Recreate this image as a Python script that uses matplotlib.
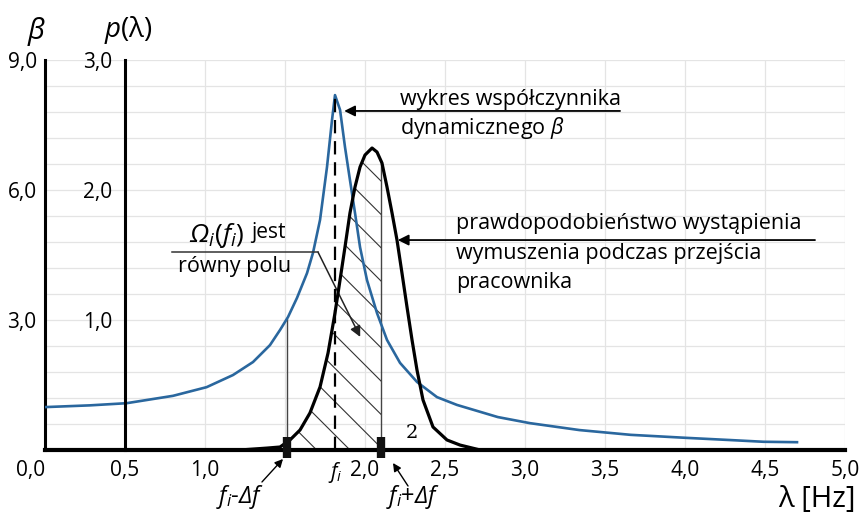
import numpy as np
import matplotlib
matplotlib.use("Agg")
import matplotlib.pyplot as plt
from matplotlib.ticker import MultipleLocator

plt.rcParams['font.family'] = ['Open Sans', 'DejaVu Sans']
plt.rcParams['mathtext.fontset'] = 'custom'
plt.rcParams['mathtext.rm'] = 'Open Sans:italic'
plt.rcParams['mathtext.it'] = 'Open Sans:italic'
plt.rcParams['hatch.linewidth'] = 0.8

# ---- data ----
beta_x = [0.0, 0.28, 0.51, 0.80, 1.01, 1.175, 1.30, 1.406, 1.469, 1.519, 1.575, 1.6375,
          1.675, 1.719, 1.7625, 1.794, 1.8125, 1.844, 1.875, 1.906, 1.9375, 1.969,
          2.0125, 2.075, 2.1375, 2.219, 2.325, 2.45, 2.575, 2.83, 3.03, 3.34, 3.66,
          4.01, 4.28, 4.49, 4.70]
beta_y = [0.99, 1.03, 1.08, 1.25, 1.45, 1.73, 2.03, 2.42, 2.77, 3.07, 3.51, 4.08,
          4.55, 5.31, 6.53, 7.62, 8.19, 7.85, 6.99, 6.23, 5.47, 4.68,
          3.92, 3.16, 2.54, 2.01, 1.57, 1.22, 1.04, 0.76, 0.62, 0.46, 0.35,
          0.28, 0.23, 0.19, 0.18]

p_x = [1.22, 1.39, 1.469, 1.531, 1.594, 1.656, 1.719, 1.769, 1.8125, 1.844, 1.875, 1.906,
       1.9375, 1.969, 2.0, 2.044, 2.075, 2.106, 2.1375, 2.169, 2.2, 2.231, 2.2625,
       2.294, 2.325, 2.3625, 2.425, 2.5125, 2.594, 2.72]
p_y = [0.0, 0.015, 0.023, 0.077, 0.154, 0.285, 0.485, 0.746, 1.054, 1.308, 1.562, 1.823,
       2.023, 2.177, 2.269, 2.323, 2.292, 2.208, 2.023, 1.823, 1.615, 1.362, 1.10,
       0.846, 0.615, 0.385, 0.177, 0.077, 0.038, 0.0]

x_ticks = [0.0, 0.5, 1.0, 2.0, 2.5, 3.0, 3.5, 4.0, 4.5, 5.0]
x_labels = ['0,0', '0,5', '1,0', '2,0', '2,5', '3,0', '3,5', '4,0', '4,5', '5,0']
p_ticks = [1.0, 2.0, 3.0]
p_labels = ['1,0', '2,0', '3,0']
beta_labels = ['3,0', '6,0', '9,0']
fi = 1.8125
f_lo = 1.5125
f_hi = 2.10
p_axis_x = 0.5

BETA_PER_P = 3.0

# ---- figure ----
fig = plt.figure(figsize=(8.67, 5.16), dpi=100)
L, B, W, H = 45/867, 66/516, 800/867, 390/516
ax = fig.add_axes([L, B, W, H])
ax.set_xlim(0, 5)
ax.set_ylim(0, 3)

for s in ['top', 'right']:
    ax.spines[s].set_visible(False)
ax.spines['left'].set_linewidth(2.2)
ax.spines['bottom'].set_linewidth(3.0)
ax.spines['bottom'].set_zorder(6)

# grid
ax.xaxis.set_minor_locator(MultipleLocator(0.5))
ax.yaxis.set_minor_locator(MultipleLocator(0.2))
ax.xaxis.remove_overlapping_locs = False
ax.yaxis.remove_overlapping_locs = False
ax.grid(which='minor', color='#e4e4e4', lw=0.9, zorder=0)
ax.tick_params(which='minor', length=0)

ax.set_xticks(x_ticks + [fi])
ax.set_xticklabels(x_labels + ['$f_i$'])
ax.tick_params(axis='x', which='major', length=0, pad=7, labelsize=15)
ax.get_xticklabels()[0].set_horizontalalignment('right')

ax.set_yticks(p_ticks)
ax.set_yticklabels(beta_labels)
ax.tick_params(axis='y', which='major', length=0, pad=6, labelsize=15)

# second vertical axis p(lambda) at x = 0.5
frac = (p_axis_x - 0) / 5.0
ax2 = fig.add_axes([L + frac * W, B, W * (1 - frac), H])
ax2.set_ylim(0, 3)
ax2.patch.set_visible(False)
for s in ['top', 'right', 'bottom']:
    ax2.spines[s].set_visible(False)
ax2.spines['left'].set_linewidth(2.2)
ax2.set_xticks([])
ax2.set_yticks(p_ticks)
ax2.set_yticklabels(p_labels)
ax2.tick_params(axis='y', length=0, pad=9, labelsize=15)

# curves
bx = np.array(beta_x)
by = np.array(beta_y) / BETA_PER_P
px = np.array(p_x)
py = np.array(p_y)

ax.plot(bx, by, color='#2a679e', lw=1.9, zorder=4, solid_joinstyle='round')
ax.plot(px, py, color='black', lw=2.3, zorder=5, solid_joinstyle='round')

# hatched area
inside = (px > f_lo) & (px < f_hi)
hx = np.concatenate([[f_lo], px[inside], [f_hi]])
hy = np.concatenate([[np.interp(f_lo, px, py)], py[inside], [np.interp(f_hi, px, py)]])
ax.fill_between(hx, 0, hy, facecolor='none', edgecolor='#333333', hatch='\\', lw=0, zorder=3)

ax.plot([f_lo, f_lo], [0, np.interp(f_lo, bx, by)], color='#444444', lw=1.0, zorder=3)
ax.plot([f_hi, f_hi], [0, np.interp(f_hi, px, py)], color='#444444', lw=1.0, zorder=3)
ax.plot([fi, fi], [0, max(by)], color='black', lw=1.6, ls=(0, (6, 3.5)), zorder=4)

for xm in (f_lo, f_hi):
    ax.plot([xm, xm], [-0.06, 0.1], color='#111111', lw=6, solid_capstyle='butt',
            clip_on=False, zorder=7)

# axis titles
fig.text(37/867, 1 - 31/516, r'$\beta$', fontsize=21, ha='center', va='center')
fig.text(128/867, 1 - 30/516, r'$p$(λ)', fontsize=20, ha='center', va='center')
fig.text(817/867, 1 - 500/516, 'λ [Hz]', fontsize=21, ha='center', va='center')

# annotations
arrow_kw = dict(arrowstyle='-|>', color='black', lw=1.3, mutation_scale=16,
                shrinkA=0, shrinkB=0)
ax.annotate('', xy=(1.87, 2.608), xytext=(3.594, 2.608), arrowprops=arrow_kw)
ax.text(2.219, 2.695, 'wykres współczynnika', fontsize=15.5, va='center', ha='left')
ax.text(2.219, 2.475, r'dynamicznego $\beta$', fontsize=15.5, va='center', ha='left')

ax.annotate('', xy=(2.205, 1.615), xytext=(4.8125, 1.615), arrowprops=arrow_kw)
ax.text(2.569, 1.745, 'prawdopodobieństwo wystąpienia', fontsize=15.5, va='center', ha='left')
ax.text(2.569, 1.515, 'wymuszenia podczas przejścia', fontsize=15.5, va='center', ha='left')
ax.text(2.569, 1.29, 'pracownika', fontsize=15.5, va='center', ha='left')

ax.plot([0.794, 1.706], [1.523, 1.523], color='#333333', lw=1.1, zorder=5)
ax.annotate('', xy=(1.97, 0.87), xytext=(1.706, 1.523),
            arrowprops=dict(arrowstyle='-|>', color='#222222', lw=1.1, mutation_scale=16,
                            shrinkA=0, shrinkB=0))
ax.text(0.90, 1.60, r'$\Omega_i$($f_i$)', fontsize=19, va='baseline', ha='left')
ax.text(1.29, 1.63, 'jest', fontsize=15, va='baseline', ha='left')
ax.text(0.83, 1.41, 'równy polu', fontsize=15.5, va='center', ha='left')

ax.text(2.295, 0.13, '2', fontsize=14, family='DejaVu Serif', va='center', ha='center')

small_arrow = dict(arrowstyle='-|>', color='black', lw=1.0, mutation_scale=12,
                   shrinkA=0, shrinkB=0)
ax.annotate('', xy=(1.4875, -0.069), xytext=(1.356, -0.246), arrowprops=small_arrow,
            annotation_clip=False)
ax.annotate('', xy=(2.175, -0.10), xytext=(2.269, -0.277), arrowprops=small_arrow,
            annotation_clip=False)
ax.text(1.219, -0.36, r'$f_i$-$\Delta f$', fontsize=17, ha='center', va='center')
ax.text(2.30, -0.36, r'$f_i$+$\Delta f$', fontsize=17, ha='center', va='center')

fig.savefig('out.png', dpi=100)
